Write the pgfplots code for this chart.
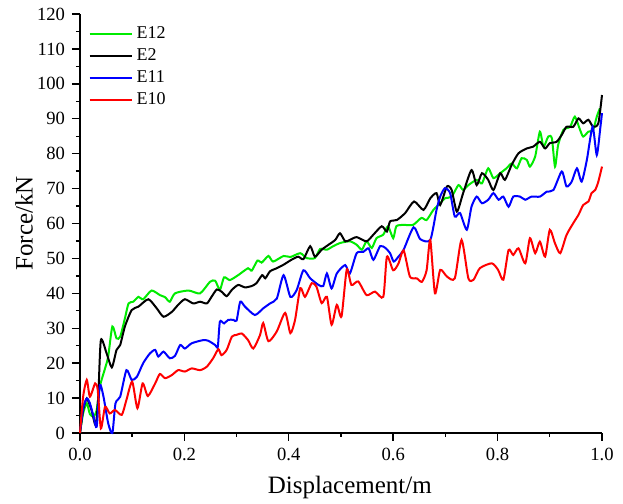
\documentclass[border=0pt]{standalone}
\usepackage{fontspec}
\setmainfont{Liberation Serif}
\usepackage{pgfplots}
\pgfplotsset{compat=1.18}
\definecolor{cgreen}{RGB}{0,235,0}
\definecolor{cblue}{RGB}{0,0,255}
\definecolor{cred}{RGB}{255,0,0}
\begin{document}
\begin{tikzpicture}
\begin{axis}[
  scale only axis,
  width=261pt, height=209.5pt,
  xmin=0, xmax=1, ymin=0, ymax=120,
  axis lines*=left,
  axis line style={line width=0.75pt},
  tick align=outside,
  major tick length=4pt, minor tick length=2pt,
  tick style={line width=0.7pt, black},
  xtick={0,0.2,...,1.0}, minor x tick num=1,
  ytick={0,10,...,120}, minor y tick num=1,
  xticklabel style={/pgf/number format/fixed,/pgf/number format/fixed zerofill,/pgf/number format/precision=1},
  /pgf/number format/assume math mode=true,
  tick label style={font=\fontsize{9.3}{11}\selectfont},
  xlabel={Displacement/m}, ylabel={Force/kN},
  label style={font=\fontsize{12.5}{15}\selectfont},
  xlabel style={at={(axis description cs:0.517,-0.131)}, anchor=center},
  ylabel style={at={(axis description cs:-0.107,0.5)}, anchor=center},
  clip=false,
  legend cell align=left,
  legend image code/.code={\draw[#1] (0pt,0pt) -- (21pt,0pt);},
  legend style={draw=none, fill=none, at={(axis description cs:0.012,0.985)}, anchor=north west,
    font=\fontsize{9}{11}\selectfont, row sep=-0.5pt, inner sep=1pt},
  every axis plot/.append style={line width=1pt, smooth, tension=0.4},
]
\addplot[cgreen] coordinates {(0,0)(0.006,5.6)(0.013,8.5)(0.019,5.4)(0.026,4.7)(0.032,6.6)(0.038,13.3)(0.048,18.5)(0.054,21.9)(0.062,30.5)(0.07,27.1)(0.077,27.6)(0.086,32.8)(0.093,37.1)(0.102,37.6)(0.112,39)(0.121,38.3)(0.137,40.8)(0.153,39.5)(0.163,38.9)(0.172,37.6)(0.182,40)(0.208,40.8)(0.23,40)(0.249,43.3)(0.259,43.6)(0.268,41)(0.276,44.6)(0.287,43.8)(0.303,45.2)(0.322,47.2)(0.329,46.5)(0.34,49.4)(0.348,48.8)(0.361,50.7)(0.37,49.1)(0.39,50.7)(0.403,50.4)(0.422,51.5)(0.434,50.1)(0.45,50.1)(0.46,52.7)(0.473,52.5)(0.485,53.5)(0.498,54.4)(0.517,54.9)(0.53,53.9)(0.54,52.5)(0.549,54.9)(0.559,53)(0.568,55.8)(0.581,56.8)(0.59,59.2)(0.6,55.8)(0.606,59.2)(0.619,59.6)(0.638,59.6)(0.654,61.6)(0.664,61)(0.677,63.9)(0.69,65.8)(0.699,67.2)(0.712,67.7)(0.725,71)(0.734,69.6)(0.744,71)(0.76,72.5)(0.77,71.5)(0.782,75.8)(0.792,73)(0.805,74.4)(0.817,75.8)(0.827,77.2)(0.837,75.8)(0.846,78.7)(0.856,78.2)(0.862,76.3)(0.872,79.2)(0.881,86.3)(0.888,82)(0.897,84.9)(0.904,84.4)(0.91,76.3)(0.916,82.5)(0.926,86.8)(0.939,87.7)(0.948,90.6)(0.958,86.8)(0.964,84.9)(0.974,86.3)(0.983,86.8)(0.99,90.6)(0.996,93)};
\addlegendentry{E12}
\addplot[black] coordinates {(0,0)(0.006,6.6)(0.013,9.9)(0.022,6.6)(0.03,2.3)(0.035,10.4)(0.04,26.6)(0.051,22.8)(0.061,18.8)(0.07,23.8)(0.077,25.2)(0.086,30.5)(0.099,35.2)(0.112,36.2)(0.131,38.3)(0.147,35.7)(0.16,33.3)(0.176,34.7)(0.188,36.7)(0.201,38.3)(0.217,37.1)(0.23,37.6)(0.243,37.1)(0.252,39)(0.262,41.1)(0.271,40.5)(0.281,39.2)(0.291,41)(0.303,42.4)(0.316,41.7)(0.329,42.1)(0.338,42.9)(0.349,45.2)(0.355,44.3)(0.364,46.3)(0.377,47.2)(0.39,48.2)(0.405,49.6)(0.418,50.5)(0.428,49.8)(0.441,53.5)(0.45,50.5)(0.463,52.5)(0.476,53.9)(0.489,55.3)(0.498,57.2)(0.508,54.9)(0.517,55.3)(0.53,56.1)(0.549,54.9)(0.562,56.8)(0.578,59.2)(0.588,57.7)(0.594,60.6)(0.607,61)(0.623,63)(0.64,66.3)(0.658,63.9)(0.671,67.2)(0.683,68.7)(0.69,65.3)(0.703,70.6)(0.712,69.6)(0.722,63.4)(0.734,68.7)(0.75,75.3)(0.76,71)(0.77,74.4)(0.782,72.5)(0.792,69.6)(0.805,74.4)(0.814,72.5)(0.827,76.8)(0.84,80.1)(0.856,81.5)(0.868,82)(0.881,83.4)(0.891,81.5)(0.9,83)(0.913,83.4)(0.923,85.4)(0.932,87.7)(0.945,87.7)(0.955,90.1)(0.964,88.7)(0.974,89.7)(0.983,87.7)(0.993,88.7)(1.0,96.8)};
\addlegendentry{E2}
\addplot[cblue] coordinates {(0,0)(0.006,7.1)(0.013,9.9)(0.019,8.5)(0.026,4.7)(0.032,1.8)(0.038,13.7)(0.045,10.4)(0.054,2.8)(0.062,0)(0.068,8.5)(0.077,10.4)(0.089,18)(0.099,15.2)(0.109,16.1)(0.121,20)(0.134,22.8)(0.144,23.8)(0.15,21.9)(0.16,23.3)(0.172,21.4)(0.182,22.1)(0.192,25.2)(0.201,24.2)(0.214,25.7)(0.236,26.6)(0.246,26.4)(0.259,25.2)(0.264,24.7)(0.268,31.9)(0.276,31.4)(0.284,32.4)(0.294,32.4)(0.3,32.2)(0.307,37.6)(0.316,36.2)(0.335,33.8)(0.351,35.7)(0.364,37.1)(0.377,38.5)(0.39,45.2)(0.403,39)(0.415,40.9)(0.428,46.6)(0.441,44.3)(0.457,42.4)(0.466,42.1)(0.473,45.7)(0.482,41.4)(0.492,45.7)(0.508,48.1)(0.517,45.7)(0.53,51.5)(0.543,51.9)(0.553,52.9)(0.562,49.6)(0.575,53.5)(0.585,53)(0.594,51.5)(0.601,49.1)(0.61,50.5)(0.62,52.5)(0.639,58.9)(0.652,55.5)(0.671,55.3)(0.683,63.9)(0.69,67.7)(0.699,70.1)(0.709,68.7)(0.718,62)(0.728,63)(0.741,58.2)(0.75,64.8)(0.76,67.7)(0.77,65.8)(0.782,66.8)(0.792,68.7)(0.802,66.8)(0.811,67.7)(0.821,64.8)(0.83,67.7)(0.843,67.7)(0.853,66.8)(0.865,67.7)(0.881,67.7)(0.894,69.1)(0.907,69.6)(0.923,74.9)(0.932,70.6)(0.942,72)(0.952,75.8)(0.961,72)(0.971,78.2)(0.982,87.7)(0.99,79.6)(0.997,87.7)(1.0,91.6)};
\addlegendentry{E11}
\addplot[cred] coordinates {(0,0)(0.006,10.4)(0.013,15.2)(0.019,10.4)(0.029,14.2)(0.034,12.3)(0.04,1.3)(0.048,7.5)(0.057,5.6)(0.067,6.6)(0.08,5.2)(0.089,9.5)(0.1,14.7)(0.11,7.1)(0.12,14.2)(0.13,10.6)(0.144,14.2)(0.153,16.9)(0.163,15.7)(0.176,16.6)(0.188,18)(0.201,17.6)(0.214,18.5)(0.23,18)(0.243,19)(0.255,21.4)(0.265,24)(0.271,22.3)(0.281,23.8)(0.291,27.6)(0.3,28.1)(0.31,28.5)(0.322,26.6)(0.332,24.2)(0.345,28.1)(0.351,31.5)(0.361,26.3)(0.377,29.1)(0.393,34.4)(0.403,28.6)(0.412,32.4)(0.422,41.5)(0.431,39)(0.444,42.9)(0.453,41.9)(0.463,37.2)(0.473,39)(0.482,31)(0.492,36.7)(0.501,33.4)(0.511,46.8)(0.52,42.4)(0.533,43.4)(0.549,39.5)(0.565,40.5)(0.581,39)(0.588,50.5)(0.6,46.6)(0.61,48.5)(0.62,52.3)(0.632,44.8)(0.645,44.3)(0.655,43.3)(0.664,46.6)(0.671,55.3)(0.68,40)(0.69,46.7)(0.703,44.8)(0.718,44.3)(0.731,55.3)(0.744,44.3)(0.754,43.9)(0.766,47.2)(0.789,48.6)(0.801,46.7)(0.811,43.9)(0.821,52.4)(0.83,51)(0.84,52.9)(0.853,48.6)(0.862,55.8)(0.872,51.5)(0.881,54.8)(0.891,50.5)(0.9,58.2)(0.91,54.3)(0.92,51.5)(0.932,56.7)(0.945,60.1)(0.955,62.5)(0.964,65.3)(0.974,66.3)(0.98,68.7)(0.987,69.6)(0.993,72)(1.0,76.3)};
\addlegendentry{E10}
\coordinate (bl) at (rel axis cs:0,0);
\coordinate (tr) at (rel axis cs:1,1);
\end{axis}
\pgfresetboundingbox
\path ([xshift=-40pt,yshift=-35.5pt]bl) rectangle ([xshift=10.5pt,yshift=7pt]tr);
\end{tikzpicture}
\end{document}
